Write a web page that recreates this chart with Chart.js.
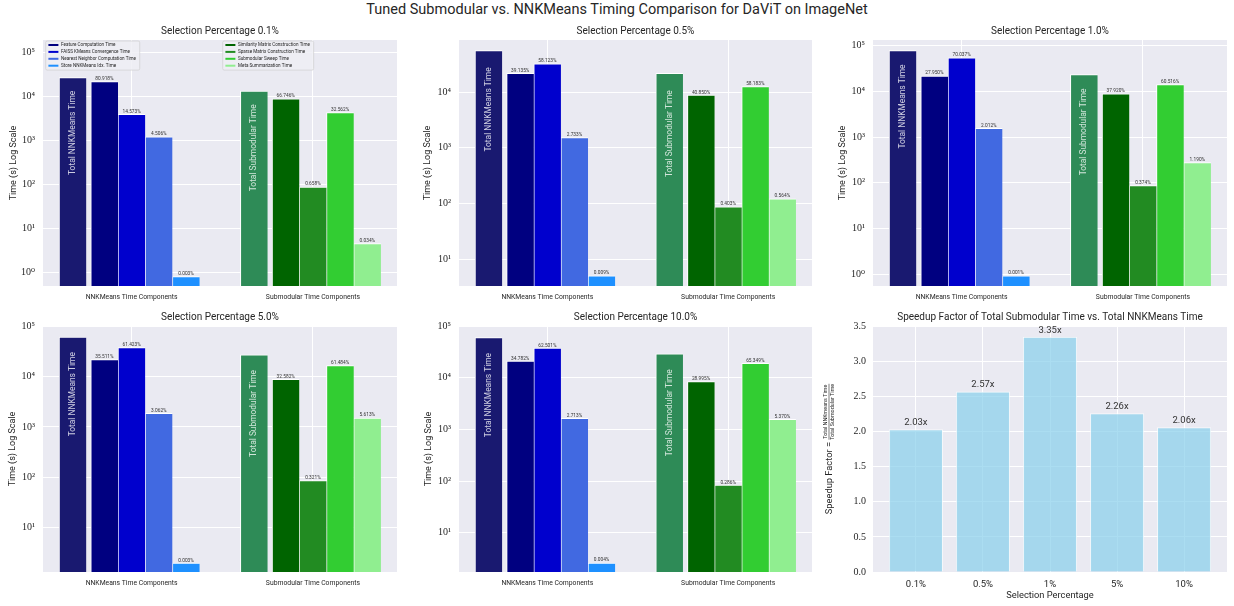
<!DOCTYPE html>
<html>
<head>
<meta charset="utf-8">
<title>Tuned Submodular vs. NNKMeans Timing Comparison</title>
<script src="https://cdn.jsdelivr.net/npm/chart.js@4.4.1/dist/chart.umd.min.js"></script>
<style>
  body { margin: 0; background: #fff; }
  #page { position: relative; width: 1234px; height: 606px; overflow: hidden; }
  #page canvas { position: absolute; }
  #suptitle { position: absolute; left: 0; top: 1px; width: 1234px; text-align: center;
    font: 14.5px Roboto, sans-serif; color: #262626; }
</style>
</head>
<body>
<div id="page">
  <div id="suptitle">Tuned Submodular vs. NNKMeans Timing Comparison for DaViT on ImageNet</div>
</div>
<script>
const selections = ["0.1%", "0.5%", "1.0%", "5.0%", "10.0%"];
const groupLabels = ["NNKMeans Time Components", "Submodular Time Components"];
const nnkNames = ["Feature Computation Time", "FAISS KMeans Convergence Time",
  "Nearest Neighbor Computation Time", "Store NNKMeans Idx. Time"];
const subNames = ["Similarity Matrix Construction Time", "Sparse Matrix Construction Time",
  "Submodular Sweep Time", "Meta Summarization Time"];

// times in seconds, one value per selection percentage
const nnkTotal = [26600, 55800, 77600, 60600, 60000];
const featureTime = [21520, 21840, 21690, 21520, 20870];
const faissTime = [3876, 32430, 54350, 37220, 37500];
const neighborTime = [1199, 1525, 1561, 1856, 1628];
const storeTime = [0.8, 5.0, 0.92, 2.0, 2.6];

const subTotal = [13100, 21700, 23150, 26800, 29100];
const simTime = [8744, 8865, 8780, 8730, 8440];
const sparseTime = [87, 87.5, 86.6, 86, 83.2];
const sweepTime = [4266, 12630, 14010, 16480, 19020];
const metaTime = [4.5, 122, 275, 1504, 1563];

// share of the group total, printed above each bar
const featurePct = [80.918, 39.135, 27.950, 35.511, 34.782];
const faissPct = [14.573, 58.123, 70.037, 61.423, 62.501];
const neighborPct = [4.506, 2.733, 2.012, 3.062, 2.713];
const storePct = [0.003, 0.009, 0.001, 0.003, 0.004];
const simPct = [66.746, 40.850, 37.920, 32.582, 28.995];
const sparsePct = [0.658, 0.403, 0.374, 0.321, 0.286];
const sweepPct = [32.562, 58.183, 60.516, 61.484, 65.349];
const metaPct = [0.034, 0.564, 1.190, 5.613, 5.370];

const speedupLabels = ["0.1%", "0.5%", "1%", "5%", "10%"];
const speedup = [2.03, 2.57, 3.35, 2.26, 2.06];
const speedupTicks = [0, 0.5, 1, 1.5, 2, 2.5, 3, 3.5];

// y limits of the log panels
const logMin = [0.49, 3.3, 0.55, 1.33, 1.74];
const logMax = [1.9e5, 8.65e4, 1.33e5, 1.0e5, 1.0e5];

const sans = "Roboto, 'DejaVu Sans', sans-serif";
const serif = "'Liberation Serif', 'DejaVu Serif', serif";
const ink = "#262626";
const nnkColors = ["#191970", "#000080", "#0000CD", "#4169E1", "#1E90FF"];
const subColors = ["#2E8B57", "#006400", "#228B22", "#32CD32", "#90EE90"];
const barOffsets = [-0.325, -0.15, 0, 0.15, 0.3];
const barWidth = 0.15;
const xMin = -0.48875, xMax = 1.46375;
const sup = ["\u2070", "\u00b9", "\u00b2", "\u00b3", "\u2074", "\u2075", "\u2076"];

// canvas boxes and plot areas [left, top, right, bottom] in page pixels
const panels = [
  { left: 0, top: 18, width: 410, height: 288, plot: [43, 40, 397, 286], titlePad: 7.9 },
  { left: 410, top: 18, width: 410, height: 288, plot: [459, 40, 812, 286], titlePad: 12.6 },
  { left: 820, top: 18, width: 414, height: 288, plot: [873, 40, 1227, 286], titlePad: 17.3 },
  { left: 0, top: 306, width: 410, height: 300, plot: [43, 326, 397, 572], titlePad: 7.3 },
  { left: 410, top: 306, width: 410, height: 300, plot: [459, 326, 812, 572], titlePad: 12.9 },
  { left: 820, top: 306, width: 414, height: 300, plot: [873, 326, 1227, 572] },
];

Chart.register({
  id: "plotBackground",
  beforeDraw(chart) {
    const { ctx, chartArea: a } = chart;
    ctx.save();
    ctx.fillStyle = "#EAEAF2";
    ctx.fillRect(a.left, a.top, a.right - a.left, a.bottom - a.top);
    ctx.restore();
  },
});

const panelTitle = {
  id: "panelTitle",
  afterDraw(chart, args, opts) {
    const { ctx, chartArea: a } = chart;
    ctx.save();
    ctx.font = `10px ${sans}`;
    ctx.fillStyle = ink;
    ctx.textAlign = "center";
    ctx.textBaseline = "middle";
    ctx.fillText(opts.text, (a.left + a.right) / 2, a.top - 9);
    ctx.restore();
  },
};

function drawLegend(ctx, items, x, y) {
  const rowH = 6.9;
  ctx.font = `4.6px ${sans}`;
  const w = Math.max(...items.map((it) => ctx.measureText(it.label).width)) + 19;
  const h = rowH * items.length + 1.5;
  ctx.fillStyle = "rgba(238,238,244,0.85)";
  ctx.strokeStyle = "rgba(204,204,204,0.8)";
  ctx.lineWidth = 0.8;
  ctx.beginPath();
  ctx.roundRect(x, y, w, h, 1.5);
  ctx.fill();
  ctx.stroke();
  items.forEach((it, k) => {
    const cy = y + 4 + rowH * k;
    ctx.strokeStyle = it.color;
    ctx.lineWidth = 2;
    ctx.beginPath();
    ctx.moveTo(x + 2.7, cy);
    ctx.lineTo(x + 12.7, cy);
    ctx.stroke();
    ctx.fillStyle = ink;
    ctx.textAlign = "left";
    ctx.textBaseline = "middle";
    ctx.fillText(it.label, x + 15.3, cy);
  });
}

const barText = {
  id: "barText",
  afterDatasetsDraw(chart, args, opts) {
    const { ctx, chartArea: a } = chart;
    const yScale = chart.scales.y;
    ctx.save();
    chart.data.datasets.forEach((ds, k) => {
      const bar = chart.getDatasetMeta(k).data[0];
      if (ds.pctText) {
        ctx.font = `4.8px ${sans}`;
        ctx.fillStyle = "#333";
        ctx.textAlign = "center";
        ctx.textBaseline = "bottom";
        ctx.fillText(ds.pctText, bar.x, bar.y - 0.3);
      }
      if (ds.innerText) {
        ctx.save();
        ctx.translate(bar.x, yScale.getPixelForValue(ds.data[0].y / 2));
        ctx.rotate(-Math.PI / 2);
        ctx.font = `8.4px ${sans}`;
        ctx.fillStyle = "rgba(255,255,255,0.78)";
        ctx.textAlign = "right";
        ctx.textBaseline = "middle";
        ctx.fillText(ds.innerText, 0, 0);
        ctx.restore();
      }
    });
    if (opts.legend) {
      const items = (g) => chart.data.datasets
        .filter((ds) => ds.legendGroup === g)
        .map((ds) => ({ label: ds.label, color: ds.backgroundColor }));
      drawLegend(ctx, items(0), a.left + 2.7, a.top + 1);
      drawLegend(ctx, items(1), a.left + 179.7, a.top + 1);
    }
    ctx.restore();
  },
};

function makeCanvas(p) {
  const c = document.createElement("canvas");
  c.width = p.width;
  c.height = p.height;
  c.style.left = p.left + "px";
  c.style.top = p.top + "px";
  document.getElementById("page").appendChild(c);
  return c;
}

function layoutFor(p) {
  return {
    autoPadding: false,
    padding: { left: 0, top: p.plot[1] - p.top, right: p.left + p.width - p.plot[2], bottom: 0 },
  };
}

function timeDatasets(i, thickness) {
  const groups = [
    { total: nnkTotal[i], text: "Total NNKMeans Time", colors: nnkColors, names: nnkNames,
      parts: [featureTime, faissTime, neighborTime, storeTime],
      pcts: [featurePct, faissPct, neighborPct, storePct] },
    { total: subTotal[i], text: "Total Submodular Time", colors: subColors, names: subNames,
      parts: [simTime, sparseTime, sweepTime, metaTime],
      pcts: [simPct, sparsePct, sweepPct, metaPct] },
  ];
  const common = {
    grouped: false,
    barThickness: thickness,
    borderColor: "#ffffff",
    borderWidth: { top: 1, left: 1, right: 0, bottom: 0 },
  };
  const sets = [];
  groups.forEach((gr, g) => {
    sets.push({ ...common, label: gr.text, innerText: gr.text,
      data: [{ x: g + barOffsets[0], y: gr.total }], backgroundColor: gr.colors[0] });
    gr.parts.forEach((arr, k) => {
      sets.push({ ...common, label: gr.names[k], legendGroup: g,
        pctText: gr.pcts[k][i].toFixed(3) + "%",
        data: [{ x: g + barOffsets[k + 1], y: arr[i] }], backgroundColor: gr.colors[k + 1] });
    });
  });
  return sets;
}

selections.forEach((sel, i) => {
  const p = panels[i];
  const thickness = (barWidth * (p.plot[2] - p.plot[0])) / (xMax - xMin);
  new Chart(makeCanvas(p), {
    type: "bar",
    data: { datasets: timeDatasets(i, thickness) },
    plugins: [panelTitle, barText],
    options: {
      responsive: false,
      animation: false,
      devicePixelRatio: 1,
      layout: layoutFor(p),
      plugins: {
        legend: { display: false },
        tooltip: { enabled: false },
        panelTitle: { text: "Selection Percentage " + sel },
        barText: { legend: i === 0 },
      },
      scales: {
        x: {
          type: "linear",
          offset: false,
          min: xMin,
          max: xMax,
          afterBuildTicks: (s) => { s.ticks = groupLabels.map((_, k) => ({ value: k })); },
          afterFit: (s) => { s.height = p.top + p.height - p.plot[3]; },
          ticks: { autoSkip: false, maxRotation: 0, padding: 7.5, color: ink,
            font: { family: sans, size: 6.8 }, callback: (v) => groupLabels[v] },
          grid: { color: "#ffffff", lineWidth: 1, drawTicks: false, offset: false },
          border: { display: false },
        },
        y: {
          type: "logarithmic",
          min: logMin[i],
          max: logMax[i],
          afterBuildTicks: (s) => {
            const t = [];
            for (let e = -1; e <= 6; e++) {
              const v = Math.pow(10, e);
              if (v >= s.min * 0.999 && v <= s.max * 1.001) t.push({ value: v });
            }
            s.ticks = t;
          },
          afterFit: (s) => { s.width = p.plot[0] - p.left; },
          ticks: { autoSkip: false, padding: 8, color: ink, font: { family: serif, size: 10 },
            callback: (v) => "10" + sup[Math.round(Math.log10(v))] },
          grid: { color: "#ffffff", lineWidth: 1, drawTicks: false },
          border: { display: false },
          title: { display: true, text: "Time (s) Log Scale", color: ink,
            font: { family: sans, size: 9 }, padding: { top: p.titlePad, bottom: 0 } },
        },
      },
    },
  });
});

// speedup panel
const speedText = {
  id: "speedText",
  afterDraw(chart) {
    const { ctx, chartArea: a } = chart;
    ctx.save();
    const bars = chart.getDatasetMeta(0).data;
    ctx.font = `9.5px ${sans}`;
    ctx.fillStyle = "#333";
    ctx.textAlign = "center";
    ctx.textBaseline = "bottom";
    bars.forEach((bar, k) => ctx.fillText(speedup[k].toFixed(2) + "x", bar.x, bar.y - 2));

    // y label with a fraction, rotated
    ctx.translate(10, (a.top + a.bottom) / 2);
    ctx.rotate(-Math.PI / 2);
    const main = "Speedup Factor = ";
    const num = "Total NNKmeans Time", den = "Total Submodular Time";
    ctx.font = `9.3px ${sans}`;
    const wm = ctx.measureText(main).width;
    ctx.font = `5.4px ${sans}`;
    const wf = Math.max(ctx.measureText(num).width, ctx.measureText(den).width);
    const x0 = -(wm + wf) / 2;
    ctx.fillStyle = ink;
    ctx.textBaseline = "middle";
    ctx.textAlign = "left";
    ctx.font = `9.3px ${sans}`;
    ctx.fillText(main, x0, 0);
    ctx.font = `5.4px ${sans}`;
    ctx.textAlign = "center";
    const fx = x0 + wm + wf / 2;
    ctx.fillText(num, fx, -4);
    ctx.fillText(den, fx, 2.6);
    ctx.strokeStyle = ink;
    ctx.lineWidth = 0.6;
    ctx.beginPath();
    ctx.moveTo(x0 + wm, -1);
    ctx.lineTo(x0 + wm + wf, -1);
    ctx.stroke();
    ctx.restore();
  },
};

(function () {
  const p = panels[5];
  const sMin = -0.64, sMax = 4.64;
  const thickness = (0.8 * (p.plot[2] - p.plot[0])) / (sMax - sMin);
  new Chart(makeCanvas(p), {
    type: "bar",
    data: {
      datasets: [{
        label: "Speedup",
        data: speedup.map((v, k) => ({ x: k, y: v })),
        grouped: false,
        barThickness: thickness,
        backgroundColor: "rgba(135,206,235,0.7)",
        borderColor: "rgba(255,255,255,0.7)",
        borderWidth: 1,
      }],
    },
    plugins: [panelTitle, speedText],
    options: {
      responsive: false,
      animation: false,
      devicePixelRatio: 1,
      layout: layoutFor(p),
      plugins: {
        legend: { display: false },
        tooltip: { enabled: false },
        panelTitle: { text: "Speedup Factor of Total Submodular Time vs. Total NNKMeans Time" },
      },
      scales: {
        x: {
          type: "linear",
          offset: false,
          min: sMin,
          max: sMax,
          afterBuildTicks: (s) => { s.ticks = speedupLabels.map((_, k) => ({ value: k })); },
          afterFit: (s) => { s.height = p.top + p.height - p.plot[3]; },
          ticks: { autoSkip: false, maxRotation: 0, padding: 7, color: ink,
            font: { family: sans, size: 9.5 }, callback: (v) => speedupLabels[v] },
          grid: { color: "#ffffff", lineWidth: 1, drawTicks: false, offset: false },
          border: { display: false },
          title: { display: true, text: "Selection Percentage", color: ink,
            font: { family: sans, size: 9.3 }, padding: { top: 0, bottom: 4.4 } },
        },
        y: {
          type: "linear",
          min: 0,
          max: 3.507,
          afterBuildTicks: (s) => { s.ticks = speedupTicks.map((v) => ({ value: v })); },
          afterFit: (s) => { s.width = p.plot[0] - p.left; },
          ticks: { autoSkip: false, padding: 7, color: ink, font: { family: serif, size: 10 },
            callback: (v) => v.toFixed(1) },
          grid: { color: "#ffffff", lineWidth: 1, drawTicks: false },
          border: { display: false },
        },
      },
    },
  });
})();
</script>
</body>
</html>
